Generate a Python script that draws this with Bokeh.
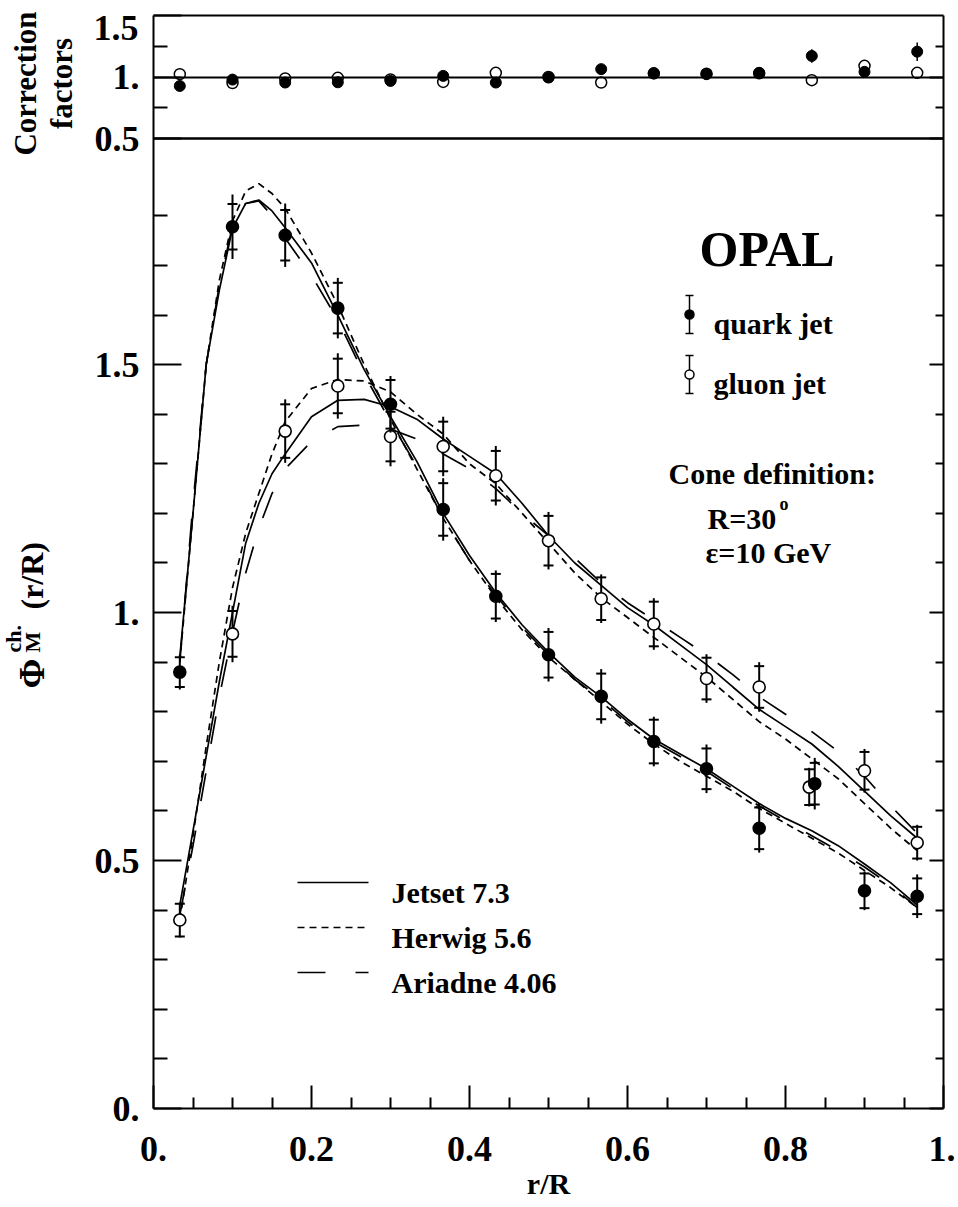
import numpy as np
from bokeh.plotting import figure
from bokeh.models import Range1d, LinearAxis, FixedTicker, Label
from bokeh.embed import file_html
from bokeh.resources import INLINE

# ---------------- data ----------------
r_bins = [0.0333, 0.1, 0.1667, 0.2333, 0.3, 0.3667, 0.4333, 0.5, 0.5667,
          0.6333, 0.7, 0.7667, 0.8333, 0.9, 0.9667]
quark_r = [0.0333, 0.1, 0.1667, 0.2333, 0.3, 0.3667, 0.4333, 0.5, 0.5667,
           0.6333, 0.7, 0.7667, 0.837, 0.9, 0.9667]
gluon_r = [0.0333, 0.1, 0.1667, 0.2333, 0.3, 0.3667, 0.4333, 0.5, 0.5667,
           0.6333, 0.7, 0.7667, 0.830, 0.9, 0.9667]

quark_phi = [0.88, 1.778, 1.761, 1.614, 1.420, 1.208, 1.033, 0.915, 0.831,
             0.740, 0.685, 0.565, 0.655, 0.439, 0.428]
quark_tot = [0.035, 0.065, 0.064, 0.061, 0.057, 0.063, 0.052, 0.054, 0.055,
             0.050, 0.049, 0.049, 0.052, 0.039, 0.044]
quark_stat = [0.030, 0.046, 0.051, 0.051, 0.049, 0.053, 0.045, 0.046, 0.046,
              0.044, 0.041, 0.042, 0.042, 0.035, 0.036]

gluon_phi = [0.380, 0.957, 1.366, 1.457, 1.355, 1.335, 1.276, 1.145, 1.028,
             0.977, 0.867, 0.850, 0.648, 0.681, 0.536]
gluon_tot = [0.035, 0.057, 0.064, 0.066, 0.060, 0.060, 0.060, 0.058, 0.049,
             0.052, 0.049, 0.050, 0.039, 0.044, 0.036]
gluon_stat = [0.033, 0.046, 0.054, 0.055, 0.050, 0.050, 0.050, 0.050, 0.043,
              0.045, 0.042, 0.042, 0.036, 0.038, 0.032]

corr_quark = [0.927, 0.979, 0.955, 0.957, 0.968, 1.009, 0.955, 0.996, 1.064,
              1.029, 1.023, 1.034, 1.171, 1.042, 1.206]
corr_quark_err = [0.010, 0.010, 0.010, 0.010, 0.010, 0.010, 0.010, 0.010, 0.012,
                  0.012, 0.012, 0.012, 0.055, 0.020, 0.075]
corr_gluon = [1.023, 0.951, 0.988, 0.993, 0.980, 0.960, 1.034, 1.000, 0.955,
              1.030, 1.027, 1.030, 0.974, 1.091, 1.034]
corr_gluon_err = [0.045, 0.010, 0.010, 0.010, 0.010, 0.010, 0.010, 0.010, 0.010,
                  0.010, 0.010, 0.010, 0.012, 0.015, 0.015]

mc_r = [0.0333, 0.05, 0.0667, 0.0833, 0.1, 0.1167, 0.1333, 0.15, 0.1667, 0.2,
        0.2333, 0.2667, 0.3, 0.3333, 0.3667, 0.4, 0.4333, 0.4667, 0.5, 0.5333,
        0.5667, 0.6, 0.6333, 0.6667, 0.7, 0.7333, 0.7667, 0.8, 0.8333, 0.8667,
        0.9, 0.9333, 0.9667]
jetset_q = [0.91, 1.20, 1.50, 1.65, 1.775, 1.825, 1.832, 1.81, 1.776, 1.705,
            1.60, 1.49, 1.395, 1.305, 1.20, 1.115, 1.04, 0.975, 0.92, 0.87,
            0.83, 0.785, 0.745, 0.715, 0.685, 0.65, 0.615, 0.585, 0.56, 0.53,
            0.493, 0.455, 0.41]
herwig_q = [0.90, 1.20, 1.50, 1.67, 1.79, 1.85, 1.865, 1.845, 1.815, 1.725,
            1.62, 1.50, 1.39, 1.29, 1.19, 1.105, 1.03, 0.965, 0.91, 0.865,
            0.82, 0.775, 0.735, 0.70, 0.67, 0.64, 0.605, 0.575, 0.545, 0.515,
            0.48, 0.445, 0.405]
ariadne_q = [0.90, 1.22, 1.50, 1.66, 1.78, 1.825, 1.83, 1.80, 1.755, 1.68,
             1.59, 1.48, 1.385, 1.295, 1.19, 1.105, 1.035, 0.97, 0.915, 0.865,
             0.825, 0.78, 0.74, 0.71, 0.68, 0.645, 0.61, 0.58, 0.55, 0.52,
             0.487, 0.45, 0.405]
jetset_g = [0.41, 0.56, 0.71, 0.86, 1.00, 1.14, 1.22, 1.28, 1.32, 1.395,
            1.428, 1.43, 1.415, 1.39, 1.35, 1.315, 1.28, 1.22, 1.155, 1.10,
            1.055, 1.01, 0.975, 0.935, 0.895, 0.85, 0.805, 0.77, 0.735, 0.69,
            0.64, 0.59, 0.545]
herwig_g = [0.38, 0.55, 0.73, 0.90, 1.05, 1.16, 1.24, 1.32, 1.385, 1.452,
            1.47, 1.467, 1.445, 1.40, 1.36, 1.30, 1.26, 1.20, 1.14, 1.08,
            1.03, 0.99, 0.95, 0.91, 0.87, 0.825, 0.78, 0.745, 0.705, 0.665,
            0.615, 0.565, 0.52]
ariadne_g = [0.39, 0.53, 0.68, 0.83, 0.96, 1.08, 1.17, 1.24, 1.29, 1.345,
             1.375, 1.378, 1.37, 1.35, 1.32, 1.29, 1.25, 1.20, 1.155, 1.11,
             1.06, 1.02, 0.985, 0.95, 0.915, 0.875, 0.83, 0.795, 0.76, 0.72,
             0.67, 0.61, 0.555]

x_ticks = [0.0, 0.2, 0.4, 0.6, 0.8, 1.0]
x_tick_labels = ["0.", "0.2", "0.4", "0.6", "0.8", "1."]
x_minor = [0.05, 0.1, 0.15, 0.25, 0.3, 0.35, 0.45, 0.5, 0.55, 0.65, 0.7, 0.75,
           0.85, 0.9, 0.95]
y_ticks = [0.0, 0.5, 1.0, 1.5]
y_tick_labels = ["0.", "0.5", "1.", "1.5"]
y_minor = [0.1, 0.2, 0.3, 0.4, 0.6, 0.7, 0.8, 0.9, 1.1, 1.2, 1.3, 1.4, 1.6,
           1.7, 1.8]
corr_ticks = [0.5, 1.0]
corr_tick_labels = ["0.5", "1."]
corr_minor = [0.75, 1.25]

# ---------------- layout (page pixels) ----------------
FONT = "Liberation Serif"
CANVAS_W, CANVAS_H = 955, 1206
FX0, FX1 = 153.0, 943.0          # frame left / right
FY_TOP, FY_SEP, FY_BOT = 15.0, 138.0, 1108.0
MAIN_TOP = 1.956                 # value of the main panel at the separator
K = MAIN_TOP / (FY_BOT - FY_SEP)
CORR_PX = FY_SEP - FY_TOP


def mx(px):
    return (px - FX0) / (FX1 - FX0)


def my(py):
    return (FY_BOT - py) * K


def cy(py):
    return 1.5 - (py - FY_TOP) / CORR_PX


def c2m(c):
    return my(FY_TOP + (1.5 - c) * CORR_PX)


Y_END = c2m(1.5)

p = figure(frame_width=CANVAS_W, frame_height=CANVAS_H,
           x_range=Range1d(mx(0), mx(CANVAS_W)),
           y_range=Range1d(my(CANVAS_H), my(0)),
           output_backend="svg", toolbar_location=None,
           min_border=0, min_border_left=0, min_border_right=0,
           min_border_top=0, min_border_bottom=0,
           background_fill_color="white", border_fill_color="white")
p.extra_y_ranges = {"corr": Range1d(cy(CANVAS_H), cy(0))}
p.xgrid.visible = False
p.ygrid.visible = False
p.outline_line_color = None


def style_axis(a, major_in, minor_in):
    a.axis_line_width = 2
    a.axis_line_color = "black"
    a.major_tick_in = major_in
    a.major_tick_out = 0
    a.minor_tick_in = minor_in
    a.minor_tick_out = 0
    a.major_tick_line_width = 2
    a.minor_tick_line_width = 2
    a.major_label_text_font = FONT
    a.major_label_text_font_style = "bold"
    a.major_label_text_font_size = "36px"
    a.major_label_text_color = "black"


major_pos = y_ticks + [c2m(c) for c in corr_ticks]
major_lab = y_tick_labels + corr_tick_labels
minor_pos = y_minor + [c2m(c) for c in corr_minor]

# left axis
ax = p.yaxis[0]
ax.fixed_location = 0.0
ax.bounds = (0.0, Y_END)
ax.ticker = FixedTicker(ticks=major_pos + [Y_END], minor_ticks=minor_pos)
ax.major_label_overrides = dict(zip(major_pos + [Y_END], major_lab + [""]))
style_axis(ax, 28, 14)
ax.major_label_standoff = 14

# right axis
rax = LinearAxis(fixed_location=1.0, bounds=(0.0, Y_END),
                 ticker=FixedTicker(ticks=major_pos, minor_ticks=minor_pos),
                 major_label_overrides={t: "" for t in major_pos})
style_axis(rax, 14, 8)
p.add_layout(rax, "right")

# bottom axis
bx = p.xaxis[0]
bx.fixed_location = 0.0
bx.bounds = (0.0, 1.0)
bx.ticker = FixedTicker(ticks=x_ticks, minor_ticks=x_minor)
bx.major_label_overrides = dict(zip(x_ticks, x_tick_labels))
style_axis(bx, 23, 11)
bx.major_label_standoff = 28
bx.axis_label = "r/R"
bx.axis_label_text_font = FONT
bx.axis_label_text_font_style = "bold"
bx.axis_label_text_font_size = "30px"
bx.axis_label_text_color = "black"
bx.axis_label_standoff = 3

# frame top, panel separator and unity line (tick-less axes)
for loc, lw in [(Y_END, 2), (MAIN_TOP, 2.5), (c2m(1.0), 2)]:
    la = LinearAxis(fixed_location=loc, bounds=(0.0, 1.0),
                    ticker=FixedTicker(ticks=[], minor_ticks=[]),
                    axis_line_width=lw, axis_line_color="black")
    p.add_layout(la, "above")

# ---------------- correction factors ----------------
cq_lo = [v - e for v, e in zip(corr_quark, corr_quark_err)]
cq_hi = [v + e for v, e in zip(corr_quark, corr_quark_err)]
cg_lo = [v - e for v, e in zip(corr_gluon, corr_gluon_err)]
cg_hi = [v + e for v, e in zip(corr_gluon, corr_gluon_err)]
p.segment(r_bins, cg_lo, r_bins, cg_hi, line_color="black", line_width=1.5, y_range_name="corr")
p.segment(r_bins, cq_lo, r_bins, cq_hi, line_color="black", line_width=1.5, y_range_name="corr")
p.scatter(r_bins, corr_gluon, marker="circle", size=11, fill_color="white",
          line_color="black", line_width=1.5, y_range_name="corr")
p.scatter(r_bins, corr_quark, marker="circle", size=11, fill_color="black",
          line_color="black", y_range_name="corr")

# ---------------- MC curves ----------------
LW = 1.7
p.line(mc_r, jetset_q, line_color="black", line_width=LW)
p.line(mc_r, herwig_q, line_color="black", line_width=LW, line_dash="7 5")
p.line(mc_r, ariadne_q, line_color="black", line_width=LW, line_dash="28 30")
p.line(mc_r, jetset_g, line_color="black", line_width=LW)
p.line(mc_r, herwig_g, line_color="black", line_width=LW, line_dash="7 5")
p.line(mc_r, ariadne_g, line_color="black", line_width=LW, line_dash="28 30")

# ---------------- data points with errors ----------------
for rr, yy, tot, st, fill in [(gluon_r, gluon_phi, gluon_tot, gluon_stat, "white"),
                              (quark_r, quark_phi, quark_tot, quark_stat, "black")]:
    lo = [v - e for v, e in zip(yy, tot)]
    hi = [v + e for v, e in zip(yy, tot)]
    slo = [v - e for v, e in zip(yy, st)]
    shi = [v + e for v, e in zip(yy, st)]
    p.segment(rr, lo, rr, hi, line_color="black", line_width=2)
    p.scatter(rr, slo, marker="dash", size=10, line_color="black", line_width=2)
    p.scatter(rr, shi, marker="dash", size=10, line_color="black", line_width=2)
    p.scatter(rr, yy, marker="circle", size=12, fill_color=fill,
              line_color="black", line_width=1.6)


# ---------------- texts ----------------
def lab(text, px, py, size, align="left", baseline="alphabetic", angle=0.0):
    p.add_layout(Label(x=mx(px), y=my(py), text=text, text_font=FONT,
                       text_font_style="bold", text_font_size=size,
                       text_align=align, text_baseline=baseline, angle=angle,
                       text_color="black"))


lab("OPAL", 699, 248, "50px")
for py, fill, name in [(314, "black", "quark jet"), (374, "white", "gluon jet")]:
    p.segment([mx(689)], [my(py - 19)], [mx(689)], [my(py + 19)],
              line_color="black", line_width=1.5)
    p.scatter([mx(689)], [my(py - 19)], marker="dash", size=8, line_color="black", line_width=1.5)
    p.scatter([mx(689)], [my(py + 19)], marker="dash", size=8, line_color="black", line_width=1.5)
    p.scatter([mx(689)], [my(py)], marker="circle", size=9, fill_color=fill,
              line_color="black", line_width=1.5)
    lab(name, 713, py + 9, "30px")

lab("Cone definition:", 668, 473, "30px")
lab("R=30", 707, 518, "30px")
lab("o", 779, 503, "18px")
lab("\u03b5=10 GeV", 705, 552, "30px")

for py, dash, name in [(882, "solid", "Jetset 7.3"), (927, "7 5", "Herwig 5.6"),
                       (972, "28 30", "Ariadne 4.06")]:
    p.line([mx(297), mx(368)], [my(py), my(py)], line_color="black",
           line_width=LW, line_dash=dash)
    lab(name, 391, py + 10, "30px")

# top label of the correction axis (sits just below its tick)
lab("1.5", 138, 27, "36px", align="right", baseline="middle")

# rotated axis titles
ang = np.pi / 2
lab("Correction", 25, 83, "31px", align="center", angle=ang)
lab("factors", 61, 83, "31px", align="center", angle=ang)
lab("\u03a6", 31, 688, "36px", angle=ang)
lab("ch.", 13, 652, "22px", angle=ang)
lab("M", 32, 652, "22px", angle=ang)
lab("(r/R)", 31, 609, "32px", angle=ang)

open("out.html", "w").write(file_html(p, INLINE))
